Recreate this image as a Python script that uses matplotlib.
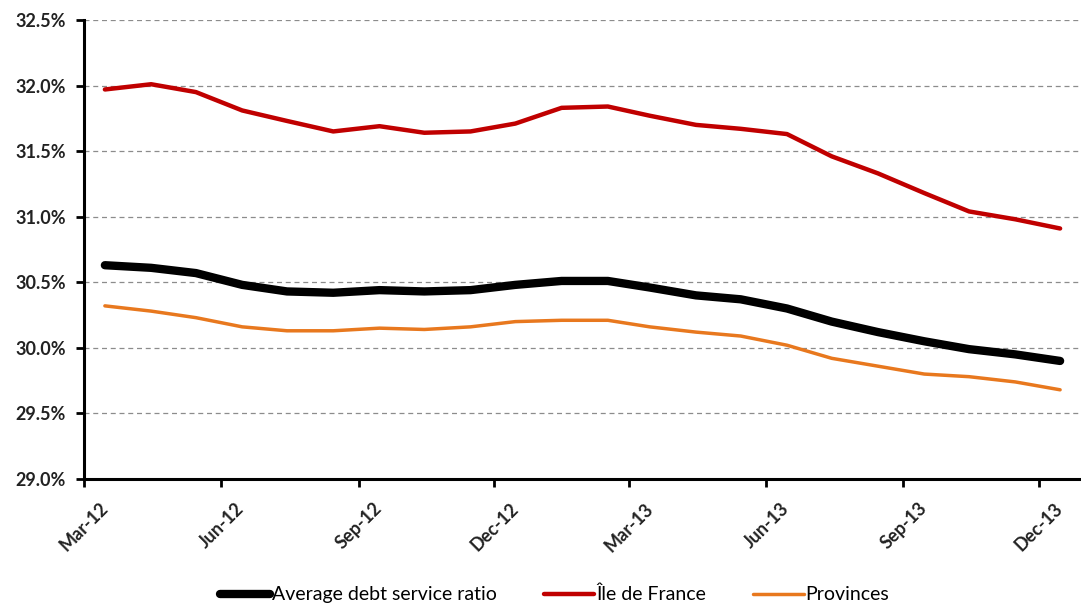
import pandas as pd
import matplotlib
matplotlib.use("Agg")
import matplotlib.pyplot as plt
import matplotlib.dates as mdates
from matplotlib.ticker import FuncFormatter, MultipleLocator

plt.rcParams["font.family"] = ["Lato", "DejaVu Sans"]

# monthly observations, Mar-12 .. Dec-13 (plotted mid-month)
months = pd.date_range("2012-03-01", "2013-12-01", freq="MS") + pd.Timedelta(days=14)

avg_ratio = [30.63, 30.61, 30.57, 30.48, 30.43, 30.42, 30.44, 30.43, 30.44, 30.48, 30.51,
             30.51, 30.46, 30.40, 30.37, 30.30, 30.20, 30.12, 30.05, 29.99, 29.95, 29.90]
ile_de_france = [31.97, 32.01, 31.95, 31.81, 31.73, 31.65, 31.69, 31.64, 31.65, 31.71, 31.83,
                 31.84, 31.77, 31.70, 31.67, 31.63, 31.46, 31.33, 31.18, 31.04, 30.98, 30.91]
provinces = [30.32, 30.28, 30.23, 30.16, 30.13, 30.13, 30.15, 30.14, 30.16, 30.20, 30.21,
             30.21, 30.16, 30.12, 30.09, 30.02, 29.92, 29.86, 29.80, 29.78, 29.74, 29.68]

labels = ["Average debt service ratio", "Île de France", "Provinces"]

fig = plt.figure(figsize=(10.81, 6.05), dpi=100)
ax = fig.add_axes([0.0777, 0.2083, 0.9223, 0.7587])

ax.plot(months, avg_ratio, color="black", lw=6, solid_capstyle="round", label=labels[0], zorder=3)
ax.plot(months, ile_de_france, color="#C00000", lw=3.2, solid_capstyle="round", label=labels[1], zorder=3)
ax.plot(months, provinces, color="#E8781E", lw=2.5, solid_capstyle="round", label=labels[2], zorder=3)

ax.set_ylim(29.0, 32.5)
ax.yaxis.set_major_locator(MultipleLocator(0.5))
ax.yaxis.set_major_formatter(FuncFormatter(lambda v, _: f"{v:.1f}%"))
ax.set_xlim(pd.Timestamp("2012-03-01"), pd.Timestamp("2013-12-29"))
ax.xaxis.set_major_locator(mdates.MonthLocator(bymonth=[3, 6, 9, 12]))
ax.xaxis.set_major_formatter(mdates.DateFormatter("%b-%y"))

ax.grid(axis="y", color="#8c8c8c", linestyle=(0, (4, 3)), lw=0.9)
ax.set_axisbelow(True)
for s in ["top", "right"]:
    ax.spines[s].set_visible(False)
for s in ["left", "bottom"]:
    ax.spines[s].set_linewidth(2.2)

ax.tick_params(axis="y", direction="out", length=6, width=2, pad=7, labelsize=13)
ax.tick_params(axis="x", direction="out", length=6, width=2, pad=9, labelsize=13)
for t in ax.get_yticklabels() + ax.get_xticklabels():
    t.set_fontweight("bold")
    t.set_color("#222222")
for t in ax.get_xticklabels():
    t.set_rotation(45)
    t.set_ha("center")
    t.set_va("top")

leg = fig.legend(loc="center", bbox_to_anchor=(0.513, 0.017), ncol=3, frameon=False,
                 fontsize=14, handlelength=2.6, handletextpad=0.1, columnspacing=2.4)

fig.savefig("out.png", dpi=100)
